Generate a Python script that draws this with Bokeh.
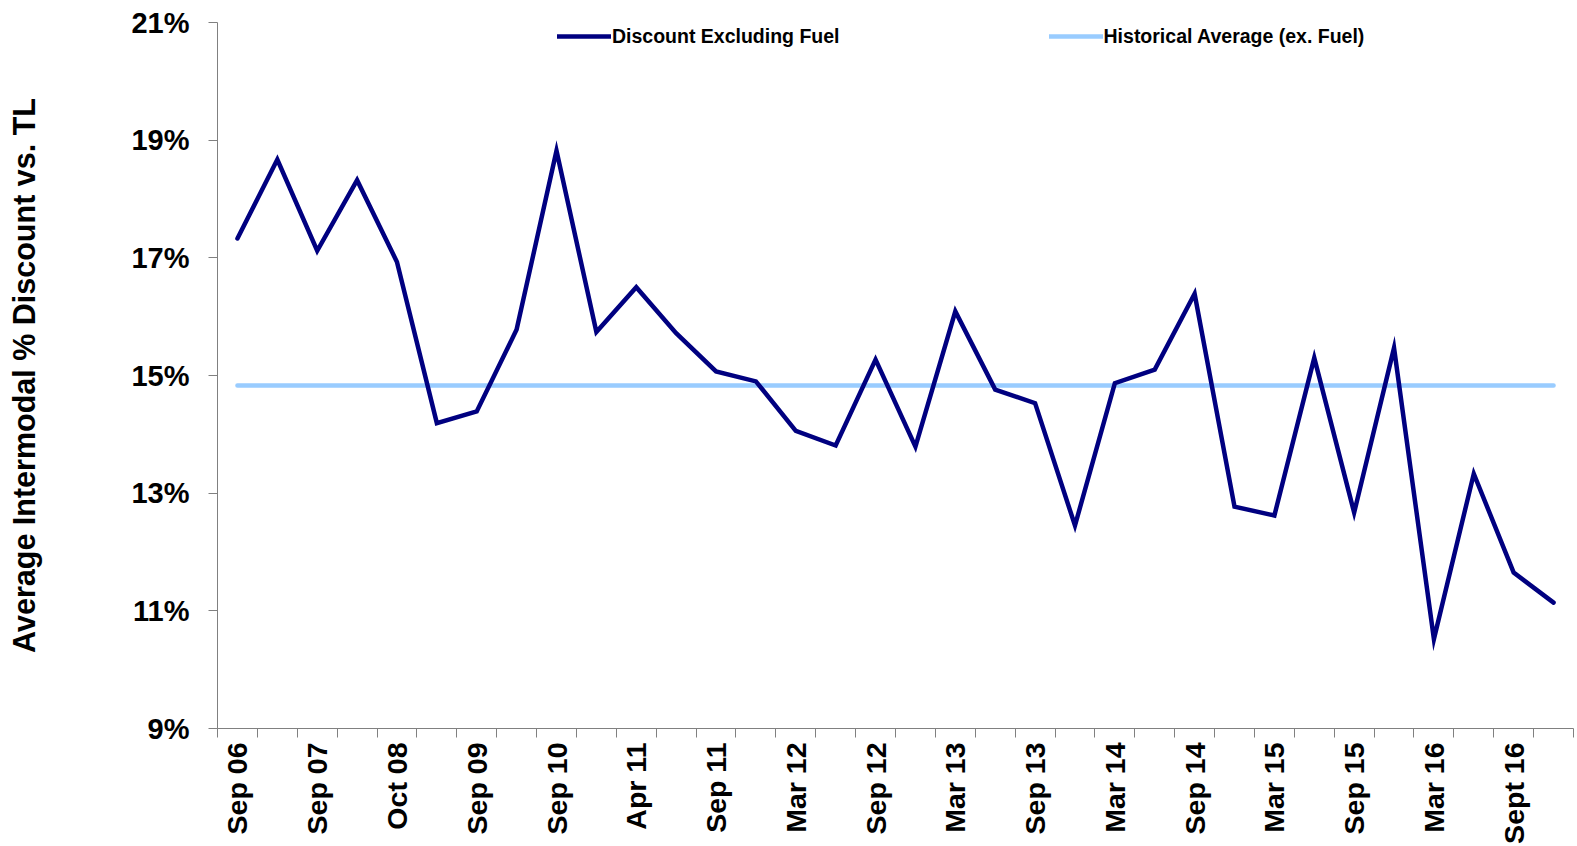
import math
from bokeh.plotting import figure
from bokeh.models import Range1d, FixedTicker, PrintfTickFormatter, Legend, LegendItem
from bokeh.embed import file_html
from bokeh.resources import INLINE

# ---- data ----
tick_labels = ["Sep 06", "Sep 07", "Oct 08", "Sep 09", "Sep 10", "Apr 11", "Sep 11",
               "Mar 12", "Sep 12", "Mar 13", "Sep 13", "Mar 14", "Sep 14", "Mar 15",
               "Sep 15", "Mar 16", "Sept 16"]
discount_ex_fuel = [17.33, 18.67, 17.12, 18.32, 16.93, 14.19, 14.39, 15.78, 18.82, 15.74,
                    16.50, 15.72, 15.07, 14.90, 14.06, 13.81, 15.27, 13.79, 16.09, 14.76,
                    14.53, 12.45, 14.87, 15.10, 16.39, 12.77, 12.62, 15.30, 12.67, 15.47,
                    10.52, 13.33, 11.65, 11.14]
historical_avg = 14.83
y_ticks = [9, 11, 13, 15, 17, 19, 21]

n = len(discount_ex_fuel)
xs = [i + 0.5 for i in range(n)]
avg_line = [historical_avg] * n

FONT = "Liberation Sans"
AXIS_GRAY = "#808080"

p = figure(width=1577, height=846, output_backend="svg", toolbar_location=None,
           x_range=Range1d(0, n), y_range=Range1d(9, 21),
           min_border_left=217, min_border_right=4, min_border_top=22, min_border_bottom=118)
p.outline_line_color = None
p.xgrid.visible = False
p.ygrid.visible = False
p.background_fill_color = "white"
p.border_fill_color = "white"

r_avg = p.line(xs, avg_line, line_color="#99CCFF", line_width=4.5, line_cap="round")
r_main = p.line(xs, discount_ex_fuel, line_color="#000080", line_width=4.5,
                line_join="miter", line_cap="round")

# x axis: labels at every other category, ticks at category boundaries
label_pos = [xs[i] for i in range(0, n, 2)]
p.xaxis.ticker = FixedTicker(ticks=label_pos, minor_ticks=list(range(n + 1)))
p.xaxis.major_label_overrides = {pos: lab for pos, lab in zip(label_pos, tick_labels)}
p.xaxis.major_label_orientation = math.pi / 2
p.xaxis.major_tick_out = 9
p.xaxis.major_tick_in = 0
p.xaxis.major_tick_line_color = None
p.xaxis.minor_tick_out = 9
p.xaxis.minor_tick_in = 0
p.xaxis.minor_tick_line_color = AXIS_GRAY
p.xaxis.axis_line_color = AXIS_GRAY
p.xaxis.major_label_standoff = 5
p.xaxis.major_label_text_font = FONT
p.xaxis.major_label_text_font_style = "bold"
p.xaxis.major_label_text_font_size = "28.5px"
p.xaxis.major_label_text_color = "black"

# y axis
p.yaxis.ticker = FixedTicker(ticks=y_ticks, minor_ticks=[])
p.yaxis.formatter = PrintfTickFormatter(format="%d%%")
p.yaxis.major_tick_out = 9
p.yaxis.major_tick_in = 0
p.yaxis.major_tick_line_color = AXIS_GRAY
p.yaxis.axis_line_color = AXIS_GRAY
p.yaxis.major_label_standoff = 19
p.yaxis.major_label_text_font = FONT
p.yaxis.major_label_text_font_style = "bold"
p.yaxis.major_label_text_font_size = "29px"
p.yaxis.major_label_text_color = "black"
p.yaxis.axis_label = "Average Intermodal % Discount vs. TL"
p.yaxis.axis_label_text_font = FONT
p.yaxis.axis_label_text_font_style = "bold"
p.yaxis.axis_label_text_font_size = "30.5px"
p.yaxis.axis_label_text_color = "black"
p.yaxis.axis_label_standoff = 87

legend = Legend(items=[LegendItem(label="Discount Excluding Fuel", renderers=[r_main]),
                       LegendItem(label="Historical Average (ex. Fuel)", renderers=[r_avg])],
                orientation="horizontal", location=(340, 680),
                glyph_width=54, glyph_height=24, label_height=24, label_standoff=1,
                spacing=209, padding=0, margin=0,
                border_line_color=None, background_fill_alpha=0,
                label_text_font=FONT, label_text_font_style="bold",
                label_text_font_size="19.5px", label_text_color="black")
p.add_layout(legend, "center")

open("out.html", "w").write(file_html(p, INLINE))
